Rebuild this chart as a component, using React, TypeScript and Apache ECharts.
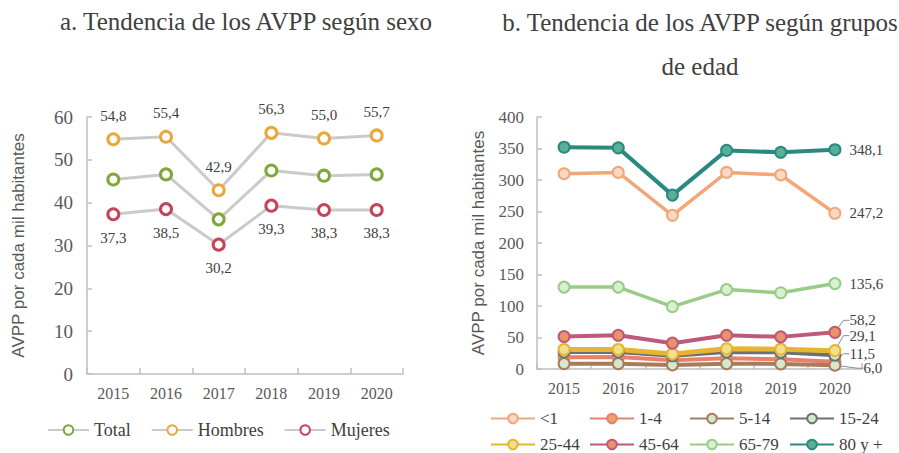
import React, { useEffect, useRef } from "react";
import * as echarts from "echarts";

// ---------- Data ----------
const years = ["2015", "2016", "2017", "2018", "2019", "2020"];

// Panel a: by sex
const sexNames = ["Total", "Hombres", "Mujeres"];
const totalValues = [45.4, 46.6, 36.1, 47.5, 46.3, 46.6];
const hombresValues = [54.8, 55.4, 42.9, 56.3, 55.0, 55.7];
const mujeresValues = [37.3, 38.5, 30.2, 39.3, 38.3, 38.3];
const sexAxisMin = 0;
const sexAxisMax = 60;
const sexAxisStep = 10;

// Panel b: by age group
const ageNames = ["<1", "1-4", "5-14", "15-24", "25-44", "45-64", "65-79", "80 y +"];
const ageLt1 = [310, 312, 244, 312, 308, 247.2];
const age1to4 = [18.5, 19, 14, 17, 15.5, 11.5];
const age5to14 = [8.5, 8.5, 6.5, 8.5, 8.0, 6.0];
const age15to24 = [27, 27, 21, 27, 26.5, 22];
const age25to44 = [31, 31, 24, 32, 31.5, 29.1];
const age45to64 = [51.5, 53.5, 41, 53.5, 51, 58.2];
const age65to79 = [130, 130, 99, 126, 121, 135.6];
const age80plus = [352, 351, 276, 347, 344, 348.1];
const ageValues = [ageLt1, age1to4, age5to14, age15to24, age25to44, age45to64, age65to79, age80plus];
const ageLabelled = [true, true, true, false, true, true, true, true];
const ageAxisMin = 0;
const ageAxisMax = 400;
const ageAxisStep = 50;

// ---------- Styles ----------
const SERIF = "'Liberation Serif', 'Times New Roman', serif";
const SANS = "'Liberation Sans', Arial, sans-serif";
const AXIS_COLOR = "#bfbfbf";
const TEXT_COLOR = "#404040";
const TICK_COLOR = "#595959";

const sexColors = ["#7ea83a", "#eaa73a", "#c4455a"];
const sexLineColor = "#cacaca";

const ageLineColors = ["#f0a878", "#e8806e", "#a87c5a", "#6c7076", "#e6b534", "#c05878", "#98cc88", "#2a8a80"];
const ageFillColors = ["#fbd8c4", "#f0a070", "#d6e8cc", "#d6e8cc", "#f0e08c", "#e8946a", "#d8f0d0", "#58b098"];
const ageLineWidths = [3.5, 4, 4, 4, 5, 4, 3.5, 4];
// label offsets for the crowded bottom labels (dx, dy)
const ageLabelOffsets: [number, number][] = [
  [0, 0], [0, -8], [14, 3], [0, 0], [0, -15], [0, -12], [0, 0], [0, 0],
];
// legend grid for panel b (column lefts, row tops)
const ageLegendLefts = [485, 584, 684, 784];
const ageLegendTops = [405, 431];

const fmt = (v: number) => v.toFixed(1).replace(".", ",");

export default function App() {
  const ref = useRef<HTMLDivElement>(null);

  useEffect(() => {
    if (!ref.current) return;
    const chart = echarts.init(ref.current, undefined, { renderer: "svg" });

    const sexData = [totalValues, hombresValues, mujeresValues];
    const sexSeries = sexNames.map((name, i) => ({
      name,
      type: "line",
      xAxisIndex: 0,
      yAxisIndex: 0,
      data: sexData[i],
      symbol: "circle",
      symbolSize: 11,
      color: sexColors[i],
      lineStyle: { color: sexLineColor, width: 3 },
      itemStyle: { color: "#ffffff", borderColor: sexColors[i], borderWidth: 3 },
      label: {
        show: i > 0,
        position: i === 1 ? "top" : "bottom",
        distance: 9,
        color: TEXT_COLOR,
        fontFamily: SERIF,
        fontSize: 15,
        formatter: (p: any) => fmt(p.value),
      },
      z: 2,
    }));

    const ageSeries = ageNames.map((name, i) => {
      const vals = ageValues[i];
      const last = vals.length - 1;
      const [dx, dy] = ageLabelOffsets[i];
      const moved = dx !== 0 || dy !== 0;
      return {
        name,
        type: "line",
        xAxisIndex: 1,
        yAxisIndex: 1,
        symbol: "circle",
        symbolSize: 11,
        color: ageLineColors[i],
        lineStyle: { color: ageLineColors[i], width: ageLineWidths[i] },
        itemStyle: { color: ageFillColors[i], borderColor: ageLineColors[i], borderWidth: 2 },
        data: vals.map((v, j) =>
          j === last && ageLabelled[i]
            ? {
                value: v,
                label: {
                  show: true,
                  position: "right",
                  distance: 8,
                  color: TEXT_COLOR,
                  fontFamily: SERIF,
                  fontSize: 15,
                  formatter: (p: any) => fmt(p.value),
                },
              }
            : v
        ),
        labelLayout: moved ? { dx, dy } : undefined,
        labelLine: moved
          ? { show: true, length2: 6, lineStyle: { color: "#7f8fa0", width: 1 } }
          : undefined,
      };
    });

    const legendText = { fontFamily: SERIF, fontSize: 17, color: TEXT_COLOR };
    const ageLegends = ageNames.map((name, i) => ({
      orient: "horizontal",
      left: ageLegendLefts[i % 4],
      top: ageLegendTops[Math.floor(i / 4)],
      itemWidth: 44,
      itemHeight: 12,
      textStyle: legendText,
      data: [name],
    }));

    const yAxisCommon = {
      type: "value",
      axisLine: { show: true, lineStyle: { color: AXIS_COLOR, width: 1.5 } },
      axisTick: { show: true, inside: true, length: 5, lineStyle: { color: AXIS_COLOR, width: 1.5 } },
      splitLine: { show: false },
      nameLocation: "middle",
      nameRotate: 90,
      nameTextStyle: { fontFamily: SANS, fontSize: 17, color: TICK_COLOR },
    };
    const xAxisCommon = {
      type: "category",
      data: years,
      boundaryGap: true,
      axisLine: { show: true, lineStyle: { color: AXIS_COLOR, width: 1.5 } },
      axisTick: { show: true, inside: true, length: 6, lineStyle: { color: AXIS_COLOR, width: 1.5 } },
    };

    chart.setOption({
      animation: false,
      backgroundColor: "#ffffff",
      title: [
        {
          text: "a. Tendencia de los AVPP según sexo",
          left: 241,
          top: 4,
          textAlign: "center",
          textStyle: { fontFamily: SERIF, fontSize: 25, fontWeight: "normal", color: TEXT_COLOR },
        },
        {
          text: "b. Tendencia de los AVPP según grupos\nde edad",
          left: 695,
          top: -5,
          textAlign: "center",
          textStyle: {
            fontFamily: SERIF,
            fontSize: 25,
            fontWeight: "normal",
            color: TEXT_COLOR,
            lineHeight: 44,
            align: "center",
          },
        },
      ],
      grid: [
        { left: 87, right: 496, top: 117, bottom: 79 },
        { left: 537, right: 37, top: 117, bottom: 84 },
      ],
      xAxis: [
        {
          ...xAxisCommon,
          gridIndex: 0,
          axisLabel: { fontFamily: SERIF, fontSize: 16, color: TICK_COLOR, margin: 11 },
        },
        {
          ...xAxisCommon,
          gridIndex: 1,
          axisLabel: { fontFamily: SERIF, fontSize: 16, color: TICK_COLOR, margin: 11 },
        },
      ],
      yAxis: [
        {
          ...yAxisCommon,
          gridIndex: 0,
          min: sexAxisMin,
          max: sexAxisMax,
          interval: sexAxisStep,
          name: "AVPP por cada mil habitantes",
          nameGap: 60,
          axisLabel: { fontFamily: SERIF, fontSize: 19, color: TICK_COLOR, margin: 14 },
        },
        {
          ...yAxisCommon,
          gridIndex: 1,
          min: ageAxisMin,
          max: ageAxisMax,
          interval: ageAxisStep,
          name: "AVPP por cada mil habitantes",
          nameGap: 50,
          axisLabel: { fontFamily: SERIF, fontSize: 17, color: TICK_COLOR, margin: 13 },
        },
      ],
      legend: [
        {
          left: 42,
          top: 416,
          itemWidth: 41,
          itemHeight: 12,
          itemGap: 20,
          textStyle: { fontFamily: SERIF, fontSize: 18, color: TEXT_COLOR },
          data: sexNames,
        },
        ...ageLegends,
      ],
      series: [...sexSeries, ...ageSeries],
    });

    return () => chart.dispose();
  }, []);

  return (
    <div
      ref={ref}
      style={{ position: "fixed", left: 0, top: 0, width: 899, height: 453, background: "#fff" }}
    />
  );
}
